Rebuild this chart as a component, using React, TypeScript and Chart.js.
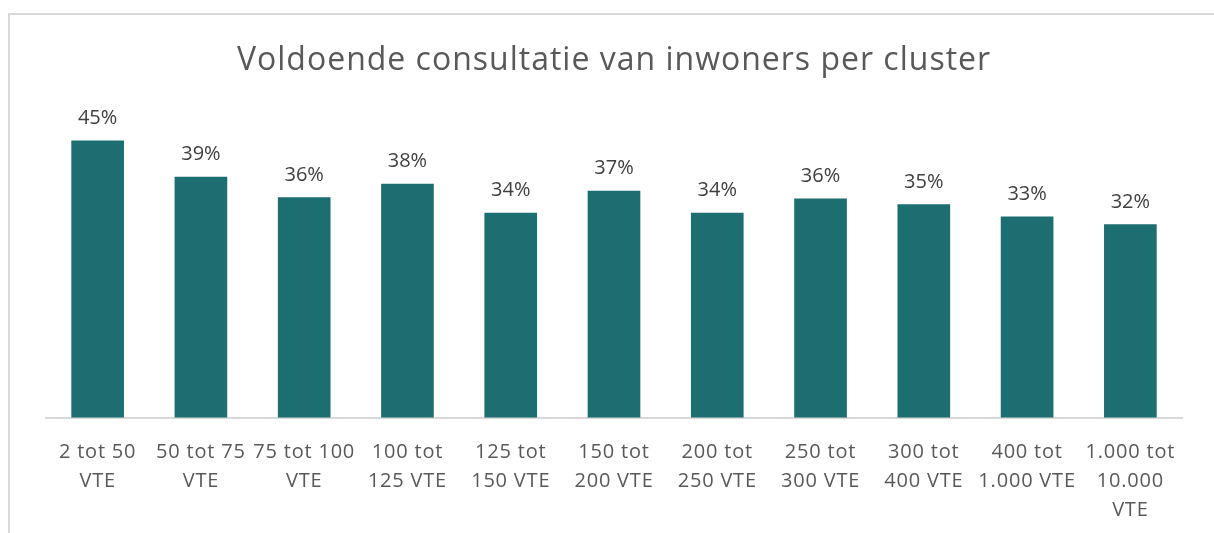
import React, { useEffect, useRef } from "react";
import { Chart, registerables } from "chart.js";

Chart.register(...registerables);

const TITLE = "Voldoende consultatie van inwoners per cluster";

const categories: string[][] = [
  ["2 tot 50", "VTE"],
  ["50 tot 75", "VTE"],
  ["75 tot 100", "VTE"],
  ["100 tot", "125 VTE"],
  ["125 tot", "150 VTE"],
  ["150 tot", "200 VTE"],
  ["200 tot", "250 VTE"],
  ["250 tot", "300 VTE"],
  ["300 tot", "400 VTE"],
  ["400 tot", "1.000 VTE"],
  ["1.000 tot", "10.000", "VTE"],
];

const values: number[] = [0.45, 0.394, 0.362, 0.383, 0.338, 0.372, 0.338, 0.36, 0.351, 0.332, 0.32];

const FONT = "'Open Sans', 'Noto Sans', sans-serif";
const BAR_COLOR = "#1d6e70";

const textPlugin = {
  id: "textPlugin",
  beforeDraw(chart: any) {
    (chart.ctx as any).letterSpacing = "0.8px";
  },
  beforeDatasetsDraw(chart: any) {
    (chart.ctx as any).letterSpacing = "0px";
  },
  afterDatasetsDraw(chart: any) {
    const ctx = chart.ctx;
    const meta = chart.getDatasetMeta(0);
    ctx.save();
    (ctx as any).letterSpacing = "0px";
    ctx.font = `20px ${FONT}`;
    ctx.fillStyle = "#404040";
    ctx.textAlign = "center";
    ctx.textBaseline = "alphabetic";
    meta.data.forEach((bar: any, i: number) => {
      const v = chart.data.datasets[0].data[i] as number;
      ctx.fillText(`${Math.round(v * 100)}%`, bar.x, bar.y - 16.7);
    });
    // title
    (ctx as any).letterSpacing = "1px";
    ctx.font = `32px ${FONT}`;
    ctx.fillStyle = "#595959";
    ctx.textAlign = "center";
    ctx.textBaseline = "alphabetic";
    ctx.fillText(TITLE, 614, 70);
    ctx.restore();
  },
};

export default function App() {
  const ref = useRef<HTMLCanvasElement | null>(null);

  useEffect(() => {
    if (!ref.current) return;
    const chart = new Chart(ref.current, {
      type: "bar",
      data: {
        labels: categories,
        datasets: [
          {
            data: values,
            backgroundColor: BAR_COLOR,
            barPercentage: 0.51,
            categoryPercentage: 1,
          },
        ],
      },
      options: {
        animation: false,
        responsive: false,
        layout: { padding: { left: 46, right: 32, top: 108.4, bottom: 0 } },
        plugins: {
          legend: { display: false },
          tooltip: { enabled: false },
          title: { display: false },
        },
        scales: {
          y: {
            display: false,
            min: 0.02,
            max: 0.5,
          },
          x: {
            grid: { display: false, drawTicks: false },
            border: { display: true, color: "#d9d9d9", width: 2 },
            ticks: {
              color: "#595959",
              font: { family: FONT, size: 20, lineHeight: 1.45 },
              padding: 20.5,
              maxRotation: 0,
              autoSkip: false,
            },
            afterFit: (scale: any) => {
              scale.height = 115.5;
            },
          },
        },
      },
      plugins: [textPlugin],
    });
    return () => chart.destroy();
  }, []);

  return (
    <div style={{ position: "fixed", inset: 0, overflow: "hidden", background: "#fff" }}>
      <div
        style={{
          position: "absolute",
          left: 8,
          top: 13,
          width: 1300,
          height: 600,
          border: "2px solid #d9d9d9",
          boxSizing: "border-box",
        }}
      />
      <canvas
        ref={ref}
        width={1214}
        height={533}
        style={{ position: "absolute", left: 0, top: 0, width: 1214, height: 533 }}
      />
    </div>
  );
}
